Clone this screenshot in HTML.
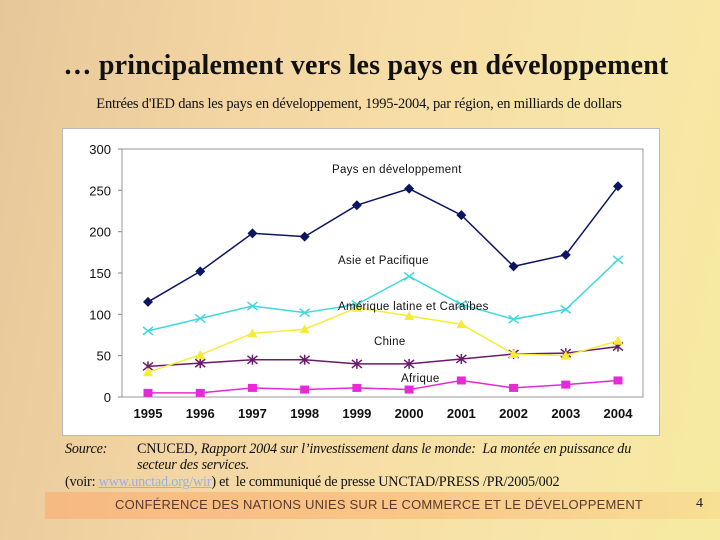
<!DOCTYPE html>
<html><head><meta charset="utf-8"><style>
body{margin:0;width:720px;height:540px;overflow:hidden;position:relative;
background:linear-gradient(100deg,#e6c79a 0%,#f3d5a3 30%,#f7dea6 55%,#f7e6a8 80%,#f6ea9f 100%);font-family:"Liberation Serif",serif;}
#title{position:absolute;left:0;width:732px;top:50px;text-align:center;font-size:28px;font-weight:bold;color:#111;letter-spacing:0.2px}
#sub{position:absolute;left:0;width:718px;top:96px;text-align:center;font-size:14.5px;color:#111;letter-spacing:-0.2px}
#chartbox{position:absolute;left:62px;top:128px;width:596px;height:306px;background:#fff;border:1px solid #bbb}
.src{position:absolute;font-size:14.2px;color:#111;letter-spacing:-0.2px}
#band{position:absolute;left:45px;top:492px;width:675px;height:27px;background:linear-gradient(90deg,rgba(250,170,110,.6),rgba(250,185,120,.7),rgba(250,200,120,.3))}
#footer{position:absolute;left:115px;top:497px;font-family:"Liberation Sans",sans-serif;font-size:13px;color:#5a3a2a;letter-spacing:0.2px}
#pg{position:absolute;left:696px;top:496px;font-size:14px;color:#222}
</style></head><body>
<div id="title">… principalement vers les pays en développement</div>
<div id="sub">Entrées d'IED dans les pays en développement, 1995-2004, par région, en milliards de dollars</div>
<div id="chartbox"></div>
<svg id="chart" width="720" height="540" style="position:absolute;left:0;top:0" font-family="Liberation Sans, sans-serif"></svg>
<div class="src" style="left:65px;top:441px;font-style:italic">Source:</div>
<div class="src" style="left:137px;top:441px">CNUCED, <i>Rapport 2004 sur l’investissement dans le monde:&nbsp; La montée en puissance du</i></div>
<div class="src" style="left:137px;top:457px;font-style:italic">secteur des services.</div>
<div class="src" style="left:65px;top:474px">(voir: <span style="color:#9ab0e0;text-decoration:underline">www.unctad.org/wir</span>) et&nbsp; le communiqué de presse UNCTAD/PRESS /PR/2005/002</div>
<div id="band"></div>
<div id="footer">CONFÉRENCE DES NATIONS UNIES SUR LE COMMERCE ET LE DÉVELOPPEMENT</div>
<div id="pg">4</div>
<script>
const years=['1995','1996','1997','1998','1999','2000','2001','2002','2003','2004'];
const yTicks=[0,50,100,150,200,250,300];
const pays=[115,152,198,194,232,252,220,158,172,255];
const asie=[80,95,110,102,112,146,112,94,106,166];
const amerique=[30,51,77,82,108,98,88,52,50,68];
const chine=[37,41,45,45,40,40,46,52,53,61];
const afrique=[5,5,11,9,11,9,20,11,15,20];
const NS='http://www.w3.org/2000/svg';
const svg=document.getElementById('chart');
const L=122,R=643,T=149,B=397;
const x=i=>148+i*(618-148)/(years.length-1);
const y=v=>B-(v/300)*(B-T);
function mk(t,a){const e=document.createElementNS(NS,t);for(const k in a)e.setAttribute(k,a[k]);svg.appendChild(e);return e;}
const ax=mk('path',{d:`M${L},${T}V${B}H${R}V${T}Z`,fill:'none',stroke:'#999','stroke-width':1});


yTicks.forEach(v=>{
 const tk=mk('line',{x1:L-4,x2:L,y1:y(v),y2:y(v),stroke:'#888'});
 
 
 const t=mk('text',{x:L-11,y:y(v)+5,'text-anchor':'end','font-size':13,fill:'#111'});t.textContent=v;
 
 
});
years.forEach((yr,i)=>{
 const t=mk('text',{x:x(i),y:B+21,'text-anchor':'middle','font-size':13,'font-weight':'bold',fill:'#111'});t.textContent=yr;
 
 
});
function series(vals,color,marker,name){
 const p=mk('polyline',{points:vals.map((v,i)=>x(i)+','+y(v)).join(' '),fill:'none',stroke:color,'stroke-width':1.5});
 
 
 vals.forEach((v,i)=>{
  const cx=x(i),cy=y(v);let m;
  if(marker==='diamond')m=mk('path',{d:`M${cx},${cy-5}L${cx+5},${cy}L${cx},${cy+5}L${cx-5},${cy}Z`,fill:color});
  else if(marker==='x')m=mk('path',{d:`M${cx-5},${cy-4}L${cx+5},${cy+4}M${cx-5},${cy+4}L${cx+5},${cy-4}`,stroke:color,'stroke-width':1.5});
  else if(marker==='tri')m=mk('path',{d:`M${cx},${cy-5}L${cx+5},${cy+4}L${cx-5},${cy+4}Z`,fill:color});
  else if(marker==='star')m=mk('path',{d:`M${cx-5},${cy-4}L${cx+5},${cy+4}M${cx-5},${cy+4}L${cx+5},${cy-4}M${cx},${cy-5}V${cy+5}`,stroke:color,'stroke-width':1.5});
  else m=mk('rect',{x:cx-4.5,y:cy-4,width:9,height:8,fill:color});
  
  
 });
}
series(afrique,'#e62ad8','sq','afrique');
series(chine,'#6a1a6a','star','chine');
series(amerique,'#f5ec3a','tri','amerique-latine');
series(asie,'#40d8e0','x','asie-pacifique');
series(pays,'#0c1560','diamond','pays-en-developpement');
const labels=[['Pays en développement',332,173],['Asie et Pacifique',338,264],['Amérique latine et Caraïbes',338,310],['Chine',374,345],['Afrique',401,382]];
labels.forEach(l=>{
 const t=mk('text',{x:l[1],y:l[2],'font-size':11.5,fill:'#111','letter-spacing':0.3});t.textContent=l[0];
 
 
});
</script>
</body></html>
